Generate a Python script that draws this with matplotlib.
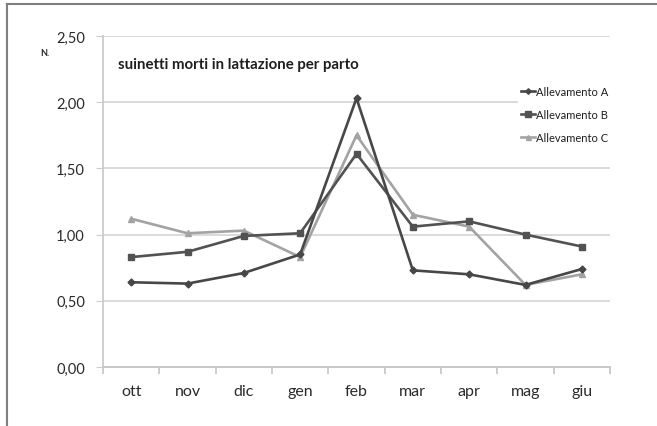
import matplotlib
matplotlib.use('Agg')
import matplotlib.pyplot as plt
from matplotlib.lines import Line2D
from matplotlib.ticker import FixedLocator, FuncFormatter

plt.rcParams['font.family'] = ['Lato', 'DejaVu Sans']

# Data
mesi = ['ott', 'nov', 'dic', 'gen', 'feb', 'mar', 'apr', 'mag', 'giu']
allev_a = [0.64, 0.63, 0.71, 0.85, 2.03, 0.73, 0.70, 0.62, 0.74]
allev_b = [0.83, 0.87, 0.99, 1.01, 1.61, 1.06, 1.10, 1.00, 0.91]
allev_c = [1.12, 1.01, 1.03, 0.83, 1.75, 1.15, 1.06, 0.62, 0.70]
y_ticks = [0.0, 0.5, 1.0, 1.5, 2.0, 2.5]

fig = plt.figure(figsize=(6.57, 4.27), dpi=100)
ax = fig.add_axes([103 / 657, 1 - 368 / 427, 507 / 657, 331 / 427])

x = list(range(len(mesi)))
ax.plot(x, allev_a, color='#474747', lw=1.9, marker='D', ms=3.5,
        label='Allevamento A', zorder=4)
ax.plot(x, allev_b, color='#525252', lw=1.9, marker='s', ms=5,
        label='Allevamento B', zorder=3)
ax.plot(x, allev_c, color='#a3a3a3', lw=1.9, marker='^', ms=4.5,
        label='Allevamento C', zorder=2)

ax.set_xlim(-0.5, len(mesi) - 0.5)
ax.set_ylim(0, 2.5)
ax.set_yticks(y_ticks)
ax.yaxis.set_major_formatter(FuncFormatter(lambda v, p: f'{v:.2f}'.replace('.', ',')))
ax.set_xticks(x)
ax.set_xticklabels(mesi)
ax.xaxis.set_minor_locator(FixedLocator([i - 0.5 for i in range(len(mesi) + 1)]))

ax.grid(axis='y', color='#d9d9d9', lw=1.4, zorder=0)
ax.set_axisbelow(True)
for s in ['top', 'right']:
    ax.spines[s].set_visible(False)
ax.spines['left'].set_color('#cccccc')
ax.spines['bottom'].set_color('#c8c8c8')
ax.spines['left'].set_linewidth(1.3)
ax.spines['bottom'].set_linewidth(1.4)

ax.tick_params(axis='y', length=5, color='#cccccc', labelsize=10.5,
               labelcolor='#2a2a2a', pad=8)
ax.tick_params(axis='x', which='major', length=0, labelsize=11.5,
               labelcolor='#2a2a2a', pad=12)
ax.tick_params(axis='x', which='minor', length=5, color='#c8c8c8', width=1.3)

fig.text(118 / 657, 1 - 65 / 427, 'suinetti morti in lattazione per parto',
         fontsize=10.8, fontweight='bold', color='#1e1e1e', va='center')
fig.text(45 / 657, 1 - 53 / 427, 'N.', fontsize=6.5, fontweight='bold',
         color='#2a2a2a', ha='center', va='center')

leg = ax.legend(loc='upper left', bbox_to_anchor=(518 / 657, 1 - 84 / 427),
                bbox_transform=fig.transFigure, frameon=True, fontsize=8,
                handlelength=1.2, handletextpad=0.15, labelspacing=1.05,
                borderpad=0.3, borderaxespad=0, markerscale=0.8)
leg.get_frame().set_facecolor('white')
leg.get_frame().set_edgecolor('white')
leg.get_frame().set_alpha(1)
for t in leg.get_texts():
    t.set_color('#1e1e1e')

# image frame (top and left edges)
fig.add_artist(Line2D([7 / 657, 1], [1 - 5 / 427] * 2, color='#7f7f7f', lw=1.5))
fig.add_artist(Line2D([7 / 657] * 2, [0, 1 - 5 / 427], color='#7f7f7f', lw=1.5))

fig.savefig('out.png', dpi=100)
